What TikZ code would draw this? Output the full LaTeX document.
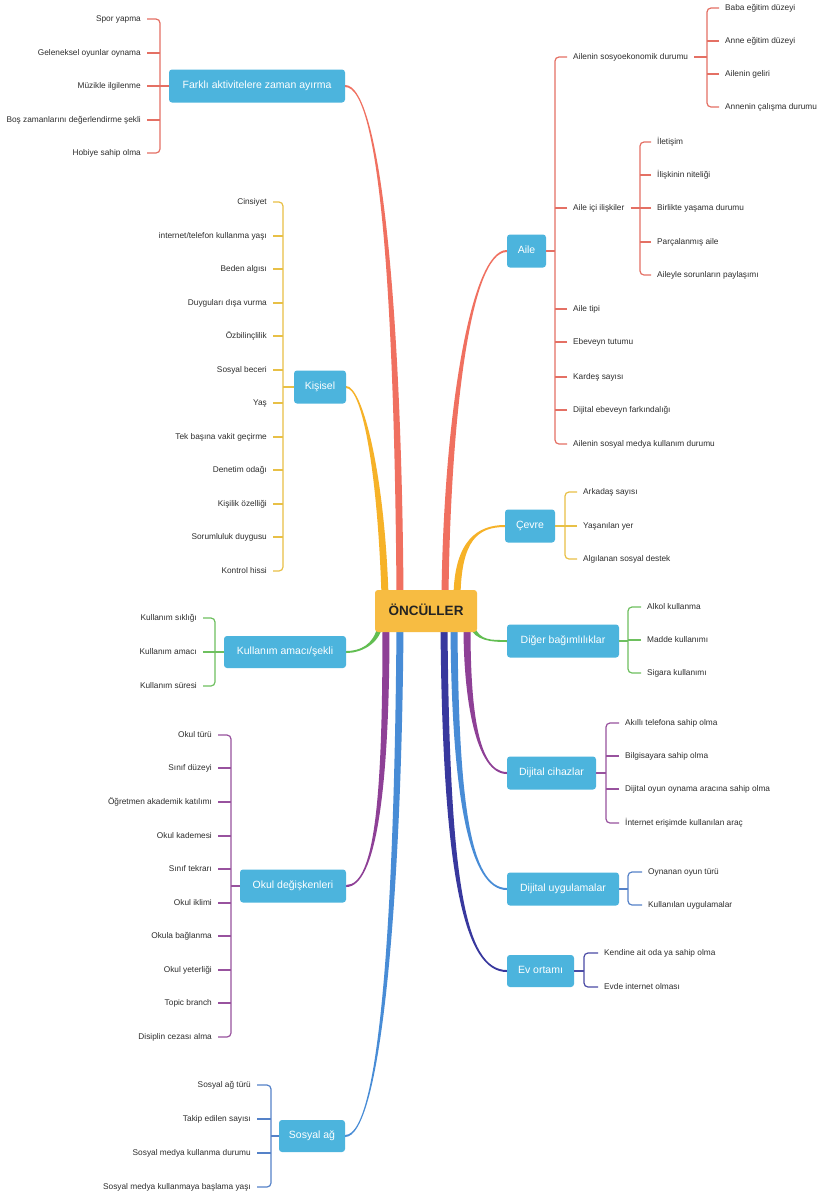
\documentclass[tikz,border=0pt]{standalone}
\usepackage{fontspec}
\setmainfont{Liberation Sans}
\usetikzlibrary{calc,backgrounds}
\definecolor{cRed}{RGB}{240,112,96}
\definecolor{bRed}{RGB}{228,112,100}
\definecolor{cOrg}{RGB}{246,178,40}
\definecolor{bYel}{RGB}{232,192,70}
\definecolor{cGrn}{RGB}{98,190,82}
\definecolor{bGrn}{RGB}{110,192,95}
\definecolor{cPur}{RGB}{142,64,150}
\definecolor{bPur}{RGB}{152,82,158}
\definecolor{cBlu}{RGB}{72,140,214}
\definecolor{bBlu}{RGB}{85,130,200}
\definecolor{cNav}{RGB}{56,56,158}
\definecolor{bNav}{RGB}{75,75,165}
\definecolor{boxBlue}{RGB}{76,180,221}
\definecolor{rootFill}{RGB}{247,188,66}
\definecolor{rootText}{RGB}{35,35,35}
\definecolor{leafText}{RGB}{45,45,45}
% tapered branch: #1 colour, #2 start (root), #3 ctrl near root, #4 ctrl near box, #5 end anchor, #6 signed half width at end, #7 half width at start
\newcommand\branch[7]{%
  \fill[#1] ($(#2)+(-#7,0)$) .. controls ($(#3)+(-#7,0)$) and ($(#4)+(0,#6)$) .. ($(#5)+(0,#6)$)
    -- ($(#5)-(0,#6)$) .. controls ($(#4)-(0,#6)$) and ($(#3)+(#7,0)$) .. ($(#2)+(#7,0)$) -- cycle;}
\begin{document}
\begin{tikzpicture}[x=1pt,y=-1pt,
  topic/.style={fill=boxBlue, rounded corners=3pt, text=white, inner sep=0pt,
    minimum height=33pt, text height=7.5pt, text depth=2.5pt,
    font=\fontsize{10.5}{12}\selectfont},
  leafL/.style={anchor=east, inner xsep=6pt, inner ysep=1pt, text=leafText,
    text height=6pt, text depth=2pt, font=\fontsize{8.3}{10}\selectfont},
  leafR/.style={leafL, anchor=west},
  brk/.style={line width=1.2pt, rounded corners=4pt}]
\useasboundingbox (0,0) rectangle (822,1195);

% root
\node[fill=rootFill, rounded corners=3pt, minimum width=102pt, minimum height=42pt,
  inner sep=0pt, text height=9.7pt, text depth=0pt, text=rootText,
  font=\bfseries\fontsize{13.5}{15}\selectfont] (root) at (426,611) {ÖNCÜLLER};

% topic boxes
\node[topic, minimum width=176pt] (far) at (257,86) {Farklı aktivitelere zaman ayırma};
\node[topic, minimum width=39pt] (aile) at (526.5,251) {Aile};
\node[topic, minimum width=52pt] (kis) at (320,387) {Kişisel};
\node[topic, minimum width=50pt] (cev) at (530,526) {Çevre};
\node[topic, minimum width=122pt, minimum height=32pt] (kul) at (285,652) {Kullanım amacı/şekli};
\node[topic, minimum width=112pt] (dig) at (563,641) {Diğer bağımlılıklar};
\node[topic, minimum width=89pt] (cih) at (551.5,773) {Dijital cihazlar};
\node[topic, minimum width=112pt] (uyg) at (563,889) {Dijital uygulamalar};
\node[topic, minimum width=67pt, minimum height=32pt] (ev) at (540.5,971) {Ev ortamı};
\node[topic, minimum width=106pt] (okul) at (293,886) {Okul değişkenleri};
\node[topic, minimum width=66pt, minimum height=32pt] (sos) at (312,1136) {Sosyal ağ};

% root attachment points
\coordinate (rt1) at ($(root.north)+(-41,6)$);
\coordinate (rt2) at ($(root.north)+(-26,6)$);
\coordinate (rt3) at ($(root.north)+(19,6)$);
\coordinate (rt4) at ($(root.north)+(31,6)$);
\coordinate (rbL) at ($(root.south)+(-46,-6)$);
\coordinate (rb1) at ($(root.south)+(-40,-6)$);
\coordinate (rb2) at ($(root.south)+(-26,-6)$);
\coordinate (rb3) at ($(root.south)+(18,-6)$);
\coordinate (rb4) at ($(root.south)+(28,-6)$);
\coordinate (rb5) at ($(root.south)+(41,-6)$);
\coordinate (rbR) at ($(root.south)+(46,-6)$);

\begin{pgfonlayer}{background}
\fill[white] (0,0) rectangle (822,1195);
\branch{cRed}{rt2}{398,300}{380,86}{far.east}{1}{3.5}
\branch{cRed}{rt3}{447,420}{470,251}{aile.west}{-1}{3.5}
\branch{cOrg}{rt1}{381,470}{362,387}{kis.east}{1}{3.5}
\branch{cOrg}{rt4}{458,540}{478,526}{cev.west}{-1}{3.5}
\branch{cGrn}{rbL}{376,645}{360,652}{kul.east}{-1}{2.5}
\branch{cGrn}{rbR}{477,641}{492,641}{dig.west}{1}{2.5}
\branch{cPur}{rb1}{386,790}{376,886}{okul.east}{-1}{3.5}
\branch{cBlu}{rb2}{398,900}{381,1136}{sos.east}{-1}{3.5}
\branch{cNav}{rb3}{446,880}{465,971}{ev.west}{1}{3.5}
\branch{cBlu}{rb4}{455,800}{470,889}{uyg.west}{1}{3.5}
\branch{cPur}{rb5}{467,700}{476,773}{cih.west}{1}{3.5}
\end{pgfonlayer}

% Farkli aktiviteler
\foreach \n/\y/\t in {1/19/Spor yapma, 2/53/Geleneksel oyunlar oynama, 3/86/Müzikle ilgilenme,
  4/120/Boş zamanlarını değerlendirme şekli, 5/153/Hobiye sahip olma}
  \node[leafL] (f\n) at (147,\y) {\t};
\coordinate (fv) at ($(f1.east)+(13,0)$);
\draw[brk,bRed] (f1.east) -- (fv) |- (f5.east);
\foreach \i in {2,3,4} \draw[brk,bRed] (f\i.east) -- (fv |- f\i.east);
\draw[brk,bRed] (far.west) -- (fv |- far.west);

% Aile
\foreach \n/\y/\t in {1/57/Ailenin sosyoekonomik durumu, 2/208/Aile içi ilişkiler, 3/309/Aile tipi,
  4/342/Ebeveyn tutumu, 5/377/Kardeş sayısı, 6/410/Dijital ebeveyn farkındalığı,
  7/444/Ailenin sosyal medya kullanım durumu}
  \node[leafR] (a\n) at (567,\y) {\t};
\coordinate (av) at ($(a1.west)+(-12,0)$);
\draw[brk,bRed] (a1.west) -- (av) |- (a7.west);
\foreach \i in {2,...,6} \draw[brk,bRed] (a\i.west) -- (av |- a\i.west);
\draw[brk,bRed] (aile.east) -- (av |- aile.east);

\foreach \n/\y/\t in {1/8/Baba eğitim düzeyi, 2/41/Anne eğitim düzeyi, 3/74/Ailenin geliri,
  4/107/Annenin çalışma durumu}
  \node[leafR] (s\n) at (719,\y) {\t};
\coordinate (sv) at ($(s1.west)+(-12,0)$);
\draw[brk,bRed] (s1.west) -- (sv) |- (s4.west);
\foreach \i in {2,3} \draw[brk,bRed] (s\i.west) -- (sv |- s\i.west);
\draw[brk,bRed] (a1.east) -- (sv |- a1.east);

\foreach \n/\y/\t in {1/142/İletişim, 2/175/İlişkinin niteliği, 3/208/Birlikte yaşama durumu,
  4/242/Parçalanmış aile, 5/275/Aileyle sorunların paylaşımı}
  \node[leafR] (i\n) at (651,\y) {\t};
\coordinate (iv) at ($(i1.west)+(-11,0)$);
\draw[brk,bRed] (i1.west) -- (iv) |- (i5.west);
\foreach \i in {2,3,4} \draw[brk,bRed] (i\i.west) -- (iv |- i\i.west);
\draw[brk,bRed] (a2.east) -- (iv |- a2.east);

% Kisisel
\foreach \n/\y/\t in {1/202/Cinsiyet, 2/236/{internet/telefon kullanma yaşı}, 3/269/Beden algısı,
  4/303/Duyguları dışa vurma, 5/336/Özbilinçlilik, 6/370/Sosyal beceri, 7/403/Yaş,
  8/437/Tek başına vakit geçirme, 9/470/Denetim odağı, 10/504/Kişilik özelliği,
  11/537/Sorumluluk duygusu, 12/571/Kontrol hissi}
  \node[leafL] (k\n) at (273,\y) {\t};
\coordinate (kv) at ($(k1.east)+(10,0)$);
\draw[brk,bYel] (k1.east) -- (kv) |- (k12.east);
\foreach \i in {2,...,11} \draw[brk,bYel] (k\i.east) -- (kv |- k\i.east);
\draw[brk,bYel] (kis.west) -- (kv |- kis.west);

% Cevre
\foreach \n/\y/\t in {1/492/Arkadaş sayısı, 2/526/Yaşanılan yer, 3/559/Algılanan sosyal destek}
  \node[leafR] (c\n) at (577,\y) {\t};
\coordinate (cv) at ($(c1.west)+(-12,0)$);
\draw[brk,bYel] (c1.west) -- (cv) |- (c3.west);
\draw[brk,bYel] (c2.west) -- (cv |- c2.west);
\draw[brk,bYel] (cev.east) -- (cv |- cev.east);

% Kullanim amaci
\foreach \n/\y/\t in {1/618/Kullanım sıklığı, 2/652/Kullanım amacı, 3/686/Kullanım süresi}
  \node[leafL] (u\n) at (203,\y) {\t};
\coordinate (uv) at ($(u1.east)+(12,0)$);
\draw[brk,bGrn] (u1.east) -- (uv) |- (u3.east);
\draw[brk,bGrn] (u2.east) -- (uv |- u2.east);
\draw[brk,bGrn] (kul.west) -- (uv |- kul.west);

% Diger bagimliliklar
\foreach \n/\y/\t in {1/607/Alkol kullanma, 2/640/Madde kullanımı, 3/673/Sigara kullanımı}
  \node[leafR] (d\n) at (641,\y) {\t};
\coordinate (dv) at ($(d1.west)+(-13,0)$);
\draw[brk,bGrn] (d1.west) -- (dv) |- (d3.west);
\draw[brk,bGrn] (d2.west) -- (dv |- d2.west);
\draw[brk,bGrn] (dig.east) -- (dv |- dig.east);

% Dijital cihazlar
\foreach \n/\y/\t in {1/723/Akıllı telefona sahip olma, 2/756/Bilgisayara sahip olma,
  3/789/Dijital oyun oynama aracına sahip olma, 4/823/İnternet erişimde kullanılan araç}
  \node[leafR] (h\n) at (619,\y) {\t};
\coordinate (hv) at ($(h1.west)+(-13,0)$);
\draw[brk,bPur] (h1.west) -- (hv) |- (h4.west);
\foreach \i in {2,3} \draw[brk,bPur] (h\i.west) -- (hv |- h\i.west);
\draw[brk,bPur] (cih.east) -- (hv |- cih.east);

% Dijital uygulamalar
\foreach \n/\y/\t in {1/872/Oynanan oyun türü, 2/905/Kullanılan uygulamalar}
  \node[leafR] (g\n) at (642,\y) {\t};
\coordinate (gv) at ($(g1.west)+(-14,0)$);
\draw[brk,bBlu] (g1.west) -- (gv) |- (g2.west);
\draw[brk,bBlu] (uyg.east) -- (gv |- uyg.east);

% Ev ortami
\foreach \n/\y/\t in {1/953/Kendine ait oda ya sahip olma, 2/987/Evde internet olması}
  \node[leafR] (e\n) at (598,\y) {\t};
\coordinate (evv) at ($(e1.west)+(-14,0)$);
\draw[brk,bNav] (e1.west) -- (evv) |- (e2.west);
\draw[brk,bNav] (ev.east) -- (evv |- ev.east);

% Okul degiskenleri
\foreach \n/\y/\t in {1/735/Okul türü, 2/768/Sınıf düzeyi, 3/802/Öğretmen akademik katılımı,
  4/836/Okul kademesi, 5/869/Sınıf tekrarı, 6/903/Okul iklimi, 7/936/Okula bağlanma,
  8/970/Okul yeterliği, 9/1003/Topic branch, 10/1037/Disiplin cezası alma}
  \node[leafL] (o\n) at (218,\y) {\t};
\coordinate (ov) at ($(o1.east)+(13,0)$);
\draw[brk,bPur] (o1.east) -- (ov) |- (o10.east);
\foreach \i in {2,...,9} \draw[brk,bPur] (o\i.east) -- (ov |- o\i.east);
\draw[brk,bPur] (okul.west) -- (ov |- okul.west);

% Sosyal ag
\foreach \n/\y/\t in {1/1085/Sosyal ağ türü, 2/1119/Takip edilen sayısı,
  3/1153/Sosyal medya kullanma durumu, 4/1187/Sosyal medya kullanmaya başlama yaşı}
  \node[leafL] (w\n) at (257,\y) {\t};
\coordinate (wv) at ($(w1.east)+(14,0)$);
\draw[brk,bBlu] (w1.east) -- (wv) |- (w4.east);
\foreach \i in {2,3} \draw[brk,bBlu] (w\i.east) -- (wv |- w\i.east);
\draw[brk,bBlu] (sos.west) -- (wv |- sos.west);
\end{tikzpicture}
\end{document}
